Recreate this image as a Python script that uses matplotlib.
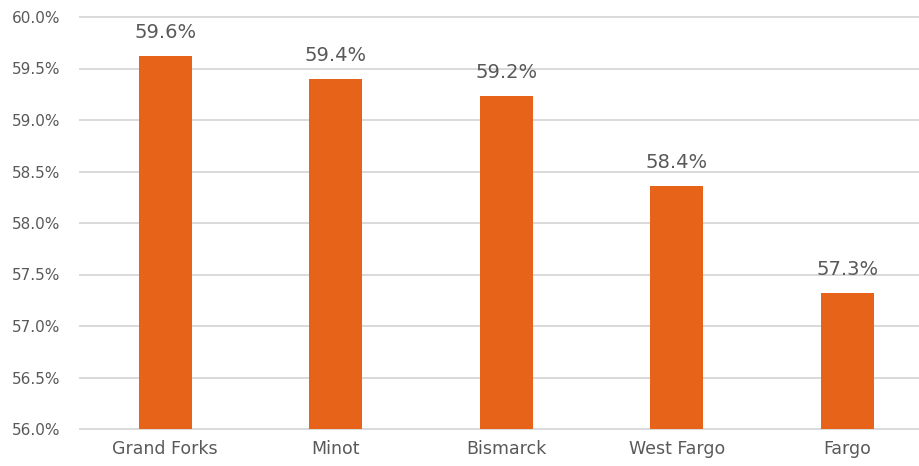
import matplotlib
matplotlib.use("Agg")
import matplotlib.pyplot as plt
from matplotlib.ticker import FuncFormatter, MultipleLocator

cities = ["Grand Forks", "Minot", "Bismarck", "West Fargo", "Fargo"]
values = [59.62, 59.40, 59.23, 58.36, 57.32]
labels = ["59.6%", "59.4%", "59.2%", "58.4%", "57.3%"]

bar_color = "#E8631A"
grid_color = "#D9D9D9"
text_color = "#595959"

plt.rcParams["font.family"] = ["DejaVu Sans"]

fig = plt.figure(figsize=(9.19, 4.66), dpi=100)
ax = fig.add_axes([80 / 919, 37 / 466, 839 / 919, 412 / 466])

x = range(len(cities))
bars = ax.bar(x, values, width=0.31, color=bar_color, zorder=3)

for xi, v, lab in zip(x, values, labels):
    ax.annotate(lab, (xi, v), xytext=(0, 10), textcoords="offset points",
                ha="center", va="bottom", fontsize=14, color=text_color)

ax.set_ylim(56, 60)
ax.set_xlim(-0.5, -0.5 + 839 / 170.5)
ax.yaxis.set_major_locator(MultipleLocator(0.5))
ax.yaxis.set_major_formatter(FuncFormatter(lambda v, p: f"{v:.1f}%"))
ax.set_xticks(list(x))
ax.set_xticklabels(cities)

ax.grid(axis="y", color=grid_color, linewidth=1.4, zorder=0)
for gl in ax.get_ygridlines():
    gl.set_clip_on(False)
for s in ["top", "right", "left", "bottom"]:
    ax.spines[s].set_visible(False)
ax.tick_params(axis="both", length=0, colors=text_color)
ax.tick_params(axis="y", pad=14, labelsize=11)
ax.tick_params(axis="x", pad=8, labelsize=12.5)

fig.savefig("out.png", dpi=100)
